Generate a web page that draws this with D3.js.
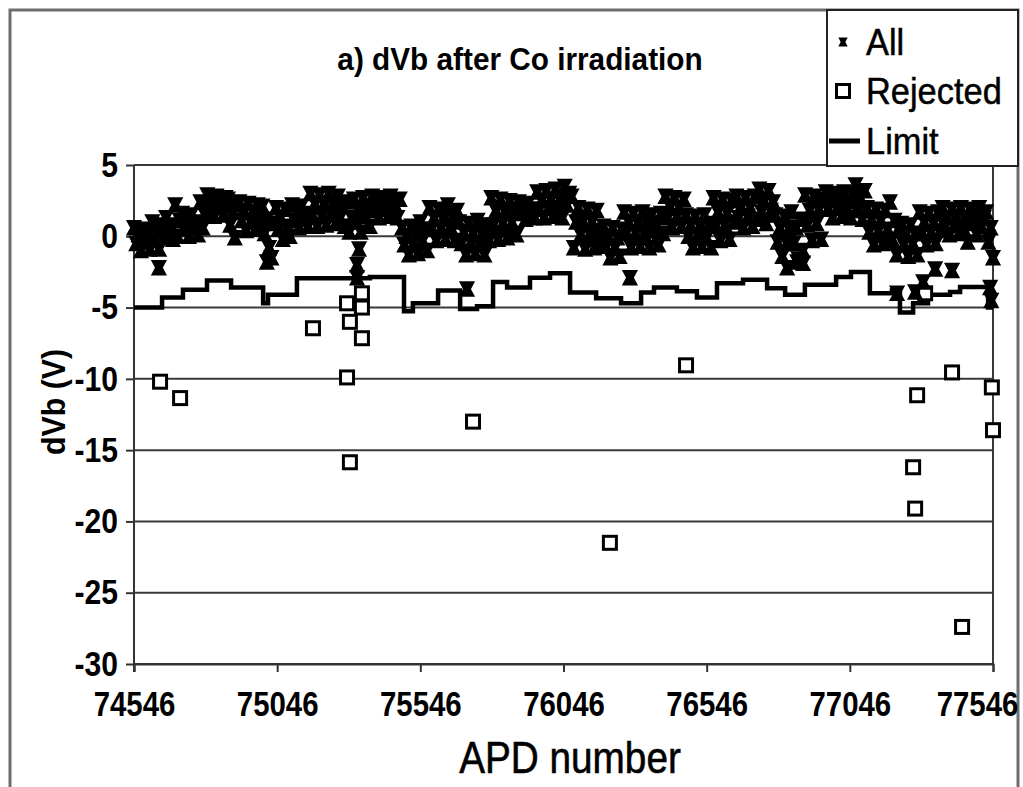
<!DOCTYPE html>
<html>
<head>
<meta charset="utf-8">
<script src="https://cdn.jsdelivr.net/npm/d3@7"></script>
<style>
  html, body { margin: 0; padding: 0; background: #fff; }
  svg { display: block; }
  text { font-family: "Liberation Sans", Arial, Helvetica, sans-serif; fill: #000; }
</style>
</head>
<body>
<svg id="chart" width="1023" height="787"></svg>
<script>
// ---- data -------------------------------------------------------------
// "All" APDs: dVb (V) for every 8th APD number starting at 74546
const allStart = 74546;
const allStep = 8;
const allDvb = [
  0.6, -0.5, 0.1, -1.0, 0.5, -0.4, 0.0, -0.9,
  1.0, -0.3, 0.4, -0.9, 0.8, -0.1,
  1.3, 0.3, 0.8, -0.2,
  2.2, 0.0, 1.1,
  1.6, 0.5, 1.1, 0.0, 1.5, 0.6, 1.0, 0.1,
  2.4, 0.6, 1.5,
  2.9, 1.9, 2.4, 1.4, 2.8, 2.0, 2.5, 1.5, 2.7,
  2.6, 0.8, 1.7, -0.1, 2.2,
  2.4, 1.1, 1.8, 0.4, 2.3, 1.0, 1.7, 0.5, 2.2, 1.3,
  2.1, 0.2, 1.2, -0.8, -1.5, 0.9,
  2.0, 0.5, 1.3, -0.2, 1.9, 0.7, 0.0,
  2.2, 1.1, 1.7, 0.6, 2.1, 1.2, 1.6, 0.7,
  3.0, 1.5, 2.3, 0.7, 2.9, 1.4, 2.2, 0.8, 3.0, 1.6, 2.4, 0.9, 2.8, 1.3, 2.1, 0.7,
  2.4, 0.3, 1.3,
  2.6, 1.0, 1.8, 0.3,
  2.7, 1.4, 2.0, 0.7,
  2.8, 1.8, 2.3, 1.3, 2.7, 1.9, 2.4, 1.4, 2.8, 1.7, 2.2, 1.3, 2.6,
  0.6, -0.6, 0.0, -1.3, 0.7, -0.5, 0.2, -1.2, 1.0, -0.3, 0.5, -1.0,
  2.0, 0.5, 1.3, -0.3, 1.9, 0.6, 1.2, -0.2, 2.2, 0.7, 1.4, -0.3, 1.8,
  1.0, -0.5, 0.3, -1.3, 0.9, -0.4, 0.2, -1.2, 1.1, -0.6, 0.1, -1.3, 0.8, -0.3,
  2.7, 0.8, 1.8, -0.2, 2.6, 0.9, 1.7, -0.1, 2.5, 1.0, 1.9, 0.1,
  2.4, 1.6, 2.0, 1.2, 2.3, 1.5, 1.9, 1.3,
  3.1, 1.9, 2.5, 1.3, 3.2, 2.0, 2.6, 1.4, 3.3, 1.8, 2.5, 1.3, 3.5, 2.2, 3.0,
  2.8, -0.8, 1.0,
  2.0, 0.1, 1.1, -0.9, 1.9, 0.2, 1.0, -0.8, 1.8, 0.4, -0.6,
  0.7, -0.7, 0.0, -1.5, 0.6, -0.8, -0.1, -1.4, 0.5,
  1.7, 0.2, 1.0, -0.8, 1.6, 0.3, 0.9, -0.7, 1.7, 0.1, 1.1, -0.8, 1.5, 0.4, 0.8, -0.6, 1.6, 0.2,
  2.8, 1.3, 2.1, 0.6, 2.7, 1.4, 2.0, 0.7, 2.6,
  1.5, 0.0, 0.8, -0.8, 1.4, 0.1, 0.7, -0.7, 1.5, -0.1, 0.9, -0.8,
  2.7, 0.7, 1.7, -0.3, 2.6, 0.8, 1.6, -0.2, 2.5, 1.0,
  2.8, 1.3, 2.1, 0.6, 2.7, 1.4, 2.0, 0.7, 2.8, 1.2,
  3.3, 1.7, 2.5, 0.9, 3.2, 1.8, 2.4,
  1.5, -0.4, 0.6, -1.4, 1.4, -0.5, 0.5,
  1.7, -0.5, 0.6, -1.6, 1.2, -1.0,
  2.9, 0.8, 1.8, -0.3, 2.8, 0.9, 1.9, -0.2, 2.6,
  3.1, 1.9, 2.5, 1.3, 3.0, 2.0, 2.6, 1.4, 3.1, 1.8, 2.4, 1.3, 2.9,
  3.6, 1.8, 2.7, 1.2, 3.2,
  2.0, 0.3, 1.2, -0.6, 1.9, 0.4, 1.1, -0.5, 1.8, 0.5,
  2.4, -0.2, 1.1, -1.3, 0.5,
  0.9, -0.6, 0.1, -1.4, 0.8, -0.5, 0.2, -1.3,
  1.7, 0.2, 1.0, -0.6, 1.6, 0.3, 0.9, -0.5, 1.7, 0.4,
  2.0, 0.7, 1.3, 0.1, 1.9, 0.8, 1.4, 0.2, 2.0, 0.6, 1.2, -0.4, 1.9, 0.9, 1.5, 0.1, 2.0, 0.7, 1.3,
  1.7, -0.4, 0.6, -1.5
];

// "All" APDs lying away from the main band
const strayApd = [74633, 75010, 75325, 75325, 75332, 75709, 76278, 76827, 76862, 76883,
                  77211, 77274, 77302, 77344, 77403, 77536, 77540];
const strayDvb = [-2.2, -1.8, -2.0, -2.9, -0.9, -3.7, -2.9, -2.2, -1.8, -1.9,
                  -4.0, -3.9, -3.2, -2.3, -2.4, -3.6, -4.5];

// Rejected APDs
const rejectedApd = [74637, 74707, 75171, 75290, 75300, 75342, 75342, 75342, 75290, 75300,
                     75730, 76208, 76474, 77267, 77274, 77281, 77309, 77403, 77438, 77542, 77546];
const rejectedDvb = [-10.2, -11.35, -6.45, -4.7, -6.0, -4.0, -5.0, -7.15, -9.9, -15.85,
                     -13.0, -21.5, -9.05, -16.2, -19.1, -11.15, -4.0, -9.55, -27.4, -10.6, -13.6];

// Limit: step starts (APD) and the limit value holding from each start
const limitApd = [74546, 74644, 74717, 74801, 74885, 74997, 75014, 75115, 75370, 75489,
                  75520, 75608, 75685, 75744, 75800, 75849, 75929, 75999, 76069, 76160,
                  76247, 76317, 76362, 76442, 76512, 76582, 76673, 76757, 76820, 76889,
                  76998, 77050, 77116, 77193, 77221, 77267, 77319, 77396, 77431, 77529, 77546];
const limitDvb = [-5.0, -4.3, -3.75, -3.1, -3.6, -4.7, -4.1, -2.95, -2.85, -5.25,
                  -4.7, -3.8, -5.1, -4.9, -3.2, -3.6, -2.9, -2.6, -3.95, -4.35,
                  -4.7, -3.95, -3.6, -3.85, -4.3, -3.3, -3.05, -3.65, -4.1, -3.4,
                  -2.85, -2.5, -4.0, -3.8, -5.35, -4.7, -4.1, -3.9, -3.55, -5.0, -5.0];

const xTickValues = [74546, 75046, 75546, 76046, 76546, 77046, 77546];
const yTickValues = [5, 0, -5, -10, -15, -20, -25, -30];
const legendLabels = ["All", "Rejected", "Limit"];
const titleText = "a) dVb after Co irradiation";
const xTitle = "APD number";
const yTitle = "dVb (V)";

// ---- layout -----------------------------------------------------------
const svg = d3.select("#chart");
const W = 1023, H = 787;
const plot = { left: 134, right: 993, top: 165, bottom: 664 };

const x = d3.scaleLinear().domain([74546, 77546]).range([plot.left, plot.right]);
const y = d3.scaleLinear().domain([-30, 5]).range([plot.bottom, plot.top]);

// outer frame
svg.append("rect")
  .attr("x", 10).attr("y", 10).attr("width", 1008).attr("height", H + 10)
  .attr("fill", "#fff").attr("stroke", "#6e6e6e").attr("stroke-width", 3);

// horizontal gridlines
svg.append("g").selectAll("line").data(yTickValues).join("line")
  .attr("x1", plot.left).attr("x2", plot.right)
  .attr("y1", d => y(d)).attr("y2", d => y(d))
  .attr("stroke", "#3a3a3a").attr("stroke-width", 2);

// right edge of plot area
svg.append("line")
  .attr("x1", plot.right).attr("x2", plot.right)
  .attr("y1", plot.top).attr("y2", plot.bottom)
  .attr("stroke", "#3a3a3a").attr("stroke-width", 2);

// axes (labels are drawn narrow, as in the original typeface)
const yAxis = svg.append("g")
  .attr("transform", `translate(${plot.left},0)`)
  .call(d3.axisLeft(y).tickValues(yTickValues).tickFormat(d => String(d))
    .tickSize(8).tickPadding(8));
const xAxis = svg.append("g")
  .attr("transform", `translate(0,${plot.bottom})`)
  .call(d3.axisBottom(x).tickValues(xTickValues).tickFormat(d => String(d))
    .tickSize(8).tickPadding(19));
[yAxis, xAxis].forEach(g => {
  g.select(".domain").attr("stroke", "#333").attr("stroke-width", 2);
  g.selectAll(".tick line").attr("stroke", "#333").attr("stroke-width", 2);
  g.selectAll(".tick text")
    .attr("fill", "#000")
    .style("font-family", "'Liberation Sans', Arial, sans-serif")
    .style("font-size", "35px")
    .style("font-weight", "bold");
});
yAxis.select(".domain").attr("d", `M0,${plot.top}V${plot.bottom + 8}`);
const ySx = 0.86;
yAxis.selectAll(".tick text")
  .attr("x", -16 / ySx)
  .attr("transform", `scale(${ySx},1)`);
const xSx = 0.84;
xAxis.selectAll(".tick text")
  .attr("transform", d => {
    // the last label is nudged left so it stays inside the frame
    const shift = d === xTickValues[xTickValues.length - 1] ? -16 : 0;
    return `translate(${shift},0) scale(${xSx},1)`;
  });

// limit line
const limitPts = limitApd.map((a, i) => [a, limitDvb[i]]);
svg.append("path")
  .datum(limitPts)
  .attr("fill", "none").attr("stroke", "#000").attr("stroke-width", 4.5)
  .attr("stroke-linejoin", "miter")
  .attr("d", d3.line().x(d => x(d[0])).y(d => y(d[1])).curve(d3.curveStepAfter));

// rejected APDs (hollow squares)
const sq = 13;
svg.append("g").selectAll("rect").data(rejectedApd.map((a, i) => [a, rejectedDvb[i]])).join("rect")
  .attr("x", d => x(d[0]) - sq / 2).attr("y", d => y(d[1]) - sq / 2)
  .attr("width", sq).attr("height", sq)
  .attr("fill", "#fff").attr("stroke", "#000").attr("stroke-width", 3);

// all APDs (bold x markers with flat caps)
const xMark = "M-6,-6.5H6L2.5,0L6,6.5H-6L-2.5,0Z";
const allPts = allDvb.map((v, i) => [allStart + i * allStep, v])
  .concat(strayApd.map((a, i) => [a, strayDvb[i]]));
svg.append("g").selectAll("path").data(allPts).join("path")
  .attr("transform", d => `translate(${x(d[0])},${y(d[1])})`)
  .attr("d", xMark)
  .attr("fill", "#000").attr("stroke", "#000").attr("stroke-width", 2.5)
  .attr("stroke-linejoin", "miter");

// titles
function narrow(sel, cx, cy, sx, extra) {
  sel.attr("x", 0).attr("y", 0)
    .attr("transform", `translate(${cx},${cy}) ${extra || ""} scale(${sx},1)`);
}
const title = svg.append("text")
  .attr("text-anchor", "middle")
  .style("font-size", "32px").style("font-weight", "bold")
  .text(titleText);
narrow(title, 520, 70, 0.93);
const xt = svg.append("text")
  .attr("text-anchor", "middle")
  .style("font-size", "44px")
  .style("stroke", "#000").style("stroke-width", 0.6)
  .text(xTitle);
narrow(xt, 570, 773, 0.88);
const yt = svg.append("text")
  .attr("text-anchor", "middle")
  .style("font-size", "33px").style("font-weight", "bold")
  .text(yTitle);
narrow(yt, 65, 402, 0.92, "rotate(-90)");

// legend
const lg = svg.append("g");
lg.append("rect")
  .attr("x", 827).attr("y", 10).attr("width", 191).attr("height", 156)
  .attr("fill", "#fff").attr("stroke", "#222").attr("stroke-width", 2);
const rowY = [42, 91, 141];
lg.selectAll("text").data(legendLabels).join("text")
  .attr("x", 0).attr("y", 0)
  .attr("transform", (d, i) => `translate(866,${rowY[i] + 13}) scale(0.93,1)`)
  .style("font-size", "37px")
  .style("stroke", "#000").style("stroke-width", 0.5)
  .text(d => d);
lg.append("path")
  .attr("transform", `translate(843,${rowY[0]}) scale(0.55)`)
  .attr("d", xMark).attr("fill", "#000").attr("stroke", "#000").attr("stroke-width", 3);
lg.append("rect")
  .attr("x", 843 - sq / 2).attr("y", rowY[1] - sq / 2).attr("width", sq).attr("height", sq)
  .attr("fill", "#fff").attr("stroke", "#000").attr("stroke-width", 3);
lg.append("line")
  .attr("x1", 829).attr("x2", 860).attr("y1", rowY[2]).attr("y2", rowY[2])
  .attr("stroke", "#000").attr("stroke-width", 5);
</script>
</body>
</html>
